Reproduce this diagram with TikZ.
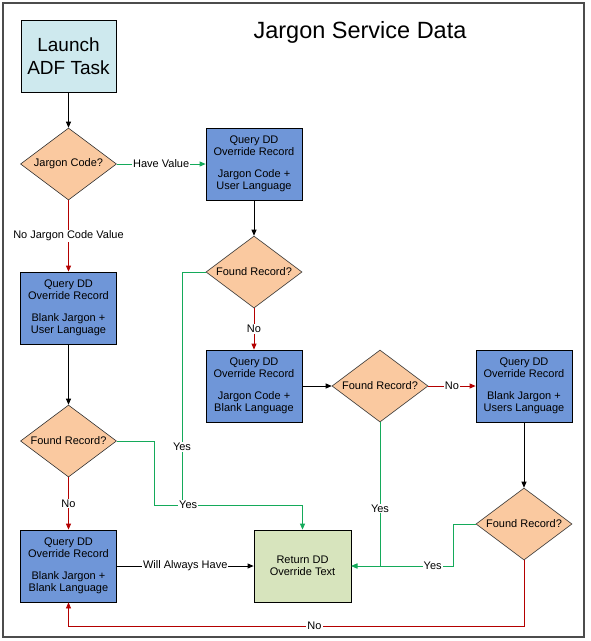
\documentclass[tikz,border=0pt]{standalone}
\usepackage{fontspec}
\setmainfont{Liberation Sans}
\usetikzlibrary{arrows.meta,shapes.geometric}
\definecolor{qblue}{RGB}{111,150,216}
\definecolor{peach}{RGB}{250,201,160}
\definecolor{lcyan}{RGB}{206,233,238}
\definecolor{lgreen}{RGB}{215,228,189}
\definecolor{gline}{RGB}{20,170,90}
\definecolor{rline}{RGB}{180,0,0}
\tikzset{
  qbox/.style={draw=black,line width=0.8pt,fill=qblue,minimum width=96pt,minimum height=72pt,inner sep=1pt,align=center,font=\fontsize{11}{12.5}\selectfont},
  dec/.style={diamond,draw=black!80,line width=0.6pt,fill=peach,minimum width=96pt,minimum height=72pt,inner sep=0pt,aspect=1.33,font=\fontsize{11}{12.5}\selectfont},
  tip/.style={-{Triangle[length=6pt,width=5pt]}},
  bl/.style={tip,draw=black,line width=0.8pt},
  gr/.style={tip,draw=gline,line width=0.8pt},
  rd/.style={tip,draw=rline,line width=0.8pt},
  lab/.style={fill=white,inner sep=1pt,font=\fontsize{11}{12.5}\selectfont},
}
\begin{document}
\begin{tikzpicture}[x=1pt,y=-1pt]
\useasboundingbox (0,0) rectangle (591,641);
\fill[white] (0,0) rectangle (591,641);
\draw[black!70,line width=1.5pt] (3,3) rectangle (584,637);
\node[font=\fontsize{23.5}{27}\selectfont] (title) at (360,32) {Jargon Service Data};
\node[draw=black,line width=0.8pt,fill=lcyan,minimum width=95pt,minimum height=72pt,align=center,font=\fontsize{19}{23}\selectfont] (launch) at (68.5,56) {Launch\\ADF Task};
\node[dec] (jc) at (68.5,164) {Jargon Code?};
\node[qbox] (q1) at (254,164) {Query DD\\Override Record\\[9pt]Jargon Code +\\User Language};
\node[dec] (f1) at (254,272) {Found Record?};
\node[qbox] (q2) at (254,386) {Query DD\\Override Record\\[9pt]Jargon Code +\\Blank Language};
\node[dec] (f2) at (380,386) {Found Record?};
\node[qbox] (q3) at (524,386) {Query DD\\Override Record\\[9pt]Blank Jargon +\\Users Language};
\node[dec] (f3) at (524,524) {Found Record?};
\node[qbox] (ql) at (68.5,308) {Query DD\\Override Record\\[9pt]Blank Jargon +\\User Language};
\node[dec] (fl) at (68.5,441) {Found Record?};
\node[qbox] (qb) at (68.5,566) {Query DD\\Override Record\\[9pt]Blank Jargon +\\Blank Language};
\node[draw=black,line width=0.8pt,fill=lgreen,minimum width=97pt,minimum height=72pt,align=center,font=\fontsize{11}{12.5}\selectfont] (ret) at (302.5,566) {Return DD\\Override Text};
% connectors
\draw[bl] (launch) -- (jc);
\draw[gr] (jc.east) -- node[lab]{Have Value} (q1.west);
\draw[rd] (jc.south) -- node[lab]{No Jargon Code Value} (ql.north);
\draw[bl] (q1) -- (f1);
\draw[rd] (f1.south) -- node[lab]{No} (q2.north);
\draw[bl] (q2.east) -- (f2.west);
\draw[rd] (f2.east) -- node[lab]{No} (q3.west);
\draw[bl] (q3) -- (f3);
\draw[bl] (ql) -- (fl);
\draw[rd] (fl.south) -- node[lab]{No} (qb.north);
\draw[bl] (qb.east) -- node[lab]{Will Always Have} (ret.west);
\coordinate (j1) at (182,505);
\draw[draw=gline,line width=0.8pt] (f1.west) -| node[lab,pos=0.875]{Yes} (j1);
\draw[gr] (fl.east) -| (154,505) -- node[lab,pos=0.23]{Yes} (302.5,505) -- (ret.north);
\draw[gr] (f2.south) |- node[lab,pos=0.3]{Yes} (ret.east);
\draw[gr] (f3.west) -| (453,566) -- node[lab,pos=0.2]{Yes} (ret.east);
\draw[rd] (f3.south) |- (68.5,626) node[lab,pos=0.73]{No} -- (qb.south);
\end{tikzpicture}
\end{document}
